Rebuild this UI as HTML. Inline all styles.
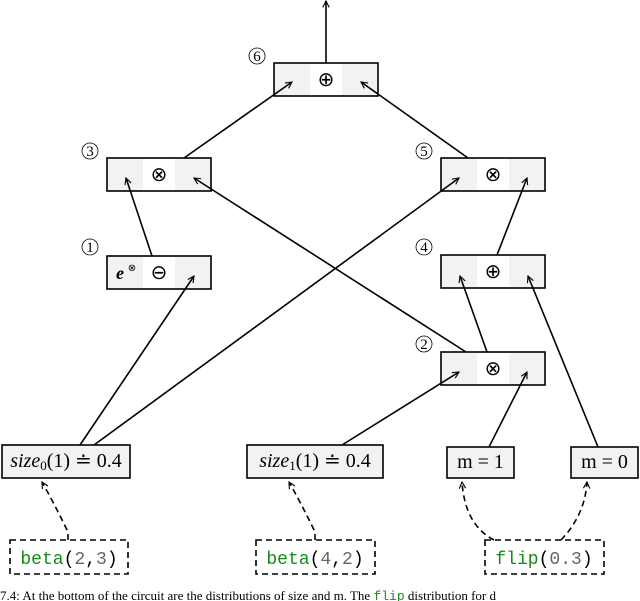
<!DOCTYPE html>
<html><head><style>
body{margin:0;width:640px;height:601px;background:#fff;overflow:hidden;position:relative;font-family:"Liberation Serif",serif;}
svg{position:absolute;left:0;top:0}
.lb{position:absolute;font-family:"Liberation Serif",serif;font-size:20px;line-height:33px;height:33px;text-align:center;white-space:nowrap}
.lb sub{font-size:13px;vertical-align:-3px;line-height:0}
</style></head><body>
<svg width="640" height="601" viewBox="0 0 640 601" xmlns="http://www.w3.org/2000/svg">
<defs>
<marker id="a" viewBox="0 0 10 10" refX="9" refY="5" markerWidth="8" markerHeight="8" orient="auto-start-reverse" markerUnits="userSpaceOnUse">
<path d="M1,1 L9,5 L1,9" fill="none" stroke="#000" stroke-width="1.4"/>
</marker>
</defs>
<g font-family="Liberation Serif" font-size="17" text-anchor="middle">
<g stroke="#000" stroke-width="1.6">
<rect x="274" y="63" width="104" height="33" fill="#f2f2f2"/>
<rect x="107" y="158" width="104" height="33" fill="#f2f2f2"/>
<rect x="441" y="158" width="104" height="33" fill="#f2f2f2"/>
<rect x="107" y="256" width="104" height="33" fill="#f2f2f2"/>
<rect x="441" y="255" width="104" height="33" fill="#f2f2f2"/>
<rect x="441" y="352" width="104" height="33" fill="#f2f2f2"/>
</g>
<g fill="#fff">
<rect x="310" y="64" width="32" height="31"/>
<rect x="143" y="159" width="32" height="31"/>
<rect x="477" y="159" width="32" height="31"/>
<rect x="143" y="257" width="32" height="31"/>
<rect x="477" y="256" width="32" height="31"/>
<rect x="477" y="353" width="32" height="31"/>
</g>
<g font-size="20">
<text x="326" y="86">⊕</text>
<text x="159" y="181">⊗</text>
<text x="493" y="181">⊗</text>
<text x="159" y="279">⊖</text>
<text x="493" y="278">⊕</text>
<text x="493" y="375">⊗</text>
</g>
<text x="120" y="279" font-size="18" font-weight="bold" font-style="italic">e</text>
<text x="132" y="271" font-size="10">⊗</text>
<g font-size="15">
<circle cx="257" cy="56" r="8" fill="none" stroke="#000" stroke-width="0.8"/><text x="257" y="61">6</text>
<circle cx="90" cy="151" r="8" fill="none" stroke="#000" stroke-width="0.8"/><text x="90" y="156">3</text>
<circle cx="424" cy="151" r="8" fill="none" stroke="#000" stroke-width="0.8"/><text x="424" y="156">5</text>
<circle cx="90" cy="247" r="8" fill="none" stroke="#000" stroke-width="0.8"/><text x="90" y="252">1</text>
<circle cx="424" cy="247" r="8" fill="none" stroke="#000" stroke-width="0.8"/><text x="424" y="252">4</text>
<circle cx="424" cy="344" r="8" fill="none" stroke="#000" stroke-width="0.8"/><text x="424" y="349">2</text>
</g>
<g stroke="#000" stroke-width="1.6" fill="#f2f2f2">
<rect x="2" y="445" width="128" height="33"/>
<rect x="247" y="445" width="136" height="33"/>
<rect x="447" y="447" width="67" height="31"/>
<rect x="571" y="447" width="67" height="31"/>
</g>
<g stroke="#000" stroke-width="1.6" fill="none" stroke-dasharray="6,4">
<rect x="10" y="540" width="118" height="34"/>
<rect x="256" y="540" width="119" height="34"/>
<rect x="485" y="540" width="119" height="34"/>
</g>
<g font-family="Liberation Mono" font-size="18">
<text x="69" y="564"><tspan fill="#1a8a1a">beta</tspan>(<tspan fill="#666">2</tspan>,<tspan fill="#666">3</tspan>)</text>
<text x="315" y="564"><tspan fill="#1a8a1a">beta</tspan>(<tspan fill="#666">4</tspan>,<tspan fill="#666">2</tspan>)</text>
<text x="544" y="564"><tspan fill="#1a8a1a">flip</tspan>(<tspan fill="#666">0.3</tspan>)</text>
</g>
</g>
<g stroke="#000" stroke-width="1.6" fill="none" marker-end="url(#a)">
<line x1="326" y1="63" x2="326" y2="1"/>
<line x1="184" y1="158" x2="292" y2="82"/>
<line x1="468" y1="158" x2="361" y2="82"/>
<line x1="152" y1="256" x2="126" y2="178"/>
<line x1="466" y1="352" x2="194" y2="178"/>
<line x1="94" y1="445" x2="459" y2="178"/>
<line x1="80" y1="445" x2="194" y2="276"/>
<line x1="497" y1="255" x2="527" y2="178"/>
<line x1="487" y1="352" x2="460" y2="276"/>
<line x1="598" y1="447" x2="528" y2="276"/>
<line x1="489" y1="447" x2="527" y2="372"/>
<line x1="342" y1="445" x2="459" y2="372"/>
</g>
<g stroke="#000" stroke-width="1.6" fill="none" stroke-dasharray="6,4" marker-end="url(#a)">
<path d="M68,540 L68,532 Q55,505 42,482"/>
<path d="M315,540 L315,532 Q302,505 289,482"/>
<path d="M494,540 Q465,525 462,482"/>
<path d="M561,540 Q585,515 587,482"/>
</g>
<text x="0" y="600" font-family="Liberation Serif" font-size="13" fill="#000">7.4:  At the bottom of the circuit are the distributions of size and m. The <tspan fill="#1a8a1a" font-family="Liberation Mono">flip</tspan> distribution for d</text>
</svg>
<div class="lb" style="left:2px;top:445px;width:128px"><i>size</i><sub>0</sub>(1) ≐ 0.4</div>
<div class="lb" style="left:247px;top:445px;width:136px"><i>size</i><sub>1</sub>(1) ≐ 0.4</div>
<div class="lb" style="left:447px;top:446px;width:67px">m = 1</div>
<div class="lb" style="left:571px;top:446px;width:67px">m = 0</div>
</body></html>
